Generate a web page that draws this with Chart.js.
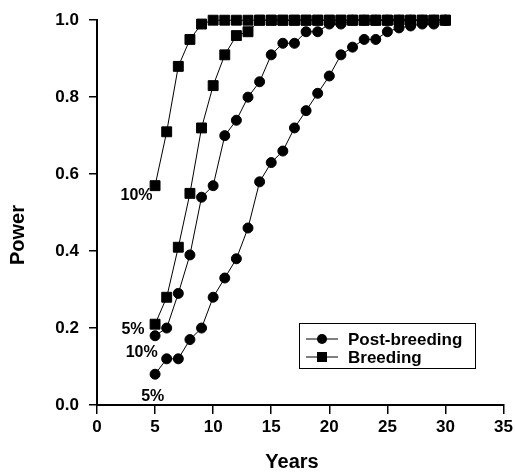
<!DOCTYPE html>
<html>
<head>
<meta charset="utf-8">
<script src="https://cdn.jsdelivr.net/npm/chart.js@4.4.0/dist/chart.umd.min.js"></script>
<style>
html, body { margin:0; padding:0; background:#fff; }
</style>
</head>
<body>
<canvas id="powerChart" width="516" height="476"></canvas>
<script>
// years sampled
var years = [5,6,7,8,9,10,11,12,13,14,15,16,17,18,19,20,21,22,23,24,25,26,27,28,29,30];

// Breeding (squares)
var breeding10 = [0.57,0.71,0.88,0.95,0.99,1.0,1.0,1.0,1.0,1.0,1.0,1.0,1.0,1.0,1.0,1.0,1.0,1.0,1.0,1.0,1.0,1.0,1.0,1.0,1.0,1.0];
var breeding5  = [0.21,0.28,0.41,0.55,0.72,0.83,0.91,0.96,0.97,1.0,1.0,1.0,1.0,1.0,1.0,1.0,1.0,1.0,1.0,1.0,1.0,1.0,1.0,1.0,1.0,1.0];

// Post-breeding (circles)
var post10 = [0.18,0.20,0.29,0.39,0.54,0.57,0.70,0.74,0.80,0.84,0.91,0.94,0.94,0.97,0.97,0.99,0.99,1.0,1.0,1.0,1.0,1.0,1.0,1.0,1.0,1.0];
var post5  = [0.08,0.12,0.12,0.17,0.20,0.28,0.33,0.38,0.46,0.58,0.63,0.66,0.72,0.765,0.81,0.855,0.91,0.93,0.95,0.95,0.97,0.98,0.985,0.99,0.99,1.0];

var xTicks = [0,5,10,15,20,25,30,35];
var yTicks = [0.0,0.2,0.4,0.6,0.8,1.0];

var FONT = '"Liberation Sans", Arial, Helvetica, sans-serif';

// labels written next to the start of each curve
var curveLabels = [
	{text:'10%', x:3.4, y:0.545},
	{text:'5%', x:3.1, y:0.195},
	{text:'10%', x:3.85, y:0.135},
	{text:'5%', x:4.8, y:0.023}
];

function pairs(arr) {
	var out = [];
	for (var i = 0; i < years.length; i++) {
		out.push({x: years[i], y: arr[i]});
	}
	return out;
}

function series(label, arr, style, r) {
	return {
		label: label,
		data: pairs(arr),
		borderColor: '#000',
		backgroundColor: '#000',
		borderWidth: 1,
		pointStyle: style,
		pointRadius: r,
		pointBackgroundColor: '#000',
		pointBorderColor: '#000',
		pointBorderWidth: 1,
		tension: 0,
		fill: false,
		clip: false
	};
}

var extras = {
	id: 'extras',
	afterDraw: function(chart) {
		var ctx = chart.ctx;
		var xs = chart.scales.x, ys = chart.scales.y;
		ctx.save();
		ctx.fillStyle = '#000';
		ctx.strokeStyle = '#000';

		// curve labels
		ctx.font = 'bold 16px ' + FONT;
		ctx.textAlign = 'center';
		ctx.textBaseline = 'middle';
		curveLabels.forEach(function(l) {
			ctx.fillText(l.text, xs.getPixelForValue(l.x), ys.getPixelForValue(l.y));
		});

		// axis titles
		ctx.font = 'bold 20px ' + FONT;
		ctx.fillText('Years', 292, 462);
		ctx.save();
		ctx.translate(18, 235);
		ctx.rotate(-Math.PI / 2);
		ctx.fillText('Power', 0, 0);
		ctx.restore();

		// legend box
		ctx.lineWidth = 1;
		ctx.strokeRect(299.5, 323.5, 176, 45);
		var rows = [{t:'Post-breeding', s:'circle', y:339}, {t:'Breeding', s:'rect', y:357}];
		ctx.font = 'bold 17px ' + FONT;
		ctx.textAlign = 'left';
		rows.forEach(function(r) {
			ctx.beginPath();
			ctx.moveTo(306, r.y);
			ctx.lineTo(338, r.y);
			ctx.stroke();
			if (r.s === 'circle') {
				ctx.beginPath();
				ctx.arc(322, r.y, 5, 0, Math.PI * 2);
				ctx.fill();
			} else {
				ctx.fillRect(317, r.y - 5, 10, 10);
			}
			ctx.fillText(r.t, 348, r.y + 1);
		});
		ctx.restore();
	}
};

var ctx1 = document.getElementById('powerChart').getContext('2d');
window.powerChart = new Chart(ctx1, {
	type: 'line',
	data: {
		datasets: [
			series('Breeding 10%', breeding10, 'rect', 7),
			series('Breeding 5%', breeding5, 'rect', 7),
			series('Post-breeding 10%', post10, 'circle', 5),
			series('Post-breeding 5%', post5, 'circle', 5)
		]
	},
	options: {
		responsive: false,
		animation: false,
		devicePixelRatio: 1,
		layout: { padding: { top: 15, right: 11, left: 0, bottom: 0 } },
		plugins: {
			legend: { display: false },
			tooltip: { enabled: false }
		},
		scales: {
			x: {
				type: 'linear',
				min: 0,
				max: 35,
				afterBuildTicks: function(s) { s.ticks = xTicks.map(function(v) { return {value: v}; }); },
				afterFit: function(s) { s.height = 71; },
				ticks: {
					color: '#000',
					font: { family: FONT, size: 17, weight: 'bold' },
					padding: 3,
					maxRotation: 0,
					callback: function(v) { return String(v); }
				},
				grid: { drawOnChartArea: false, drawTicks: true, tickLength: 9, color: '#000', lineWidth: 1.5 },
				border: { color: '#000', width: 2 }
			},
			y: {
				min: 0,
				max: 1,
				afterBuildTicks: function(s) { s.ticks = yTicks.map(function(v) { return {value: v}; }); },
				afterFit: function(s) { s.width = 97; },
				ticks: {
					color: '#000',
					font: { family: FONT, size: 17, weight: 'bold' },
					padding: 10,
					callback: function(v) { return Number(v).toFixed(1); }
				},
				grid: { drawOnChartArea: false, drawTicks: true, tickLength: 8, color: '#000', lineWidth: 1.5 },
				border: { color: '#000', width: 2 }
			}
		}
	},
	plugins: [extras]
});
</script>
</body>
</html>
